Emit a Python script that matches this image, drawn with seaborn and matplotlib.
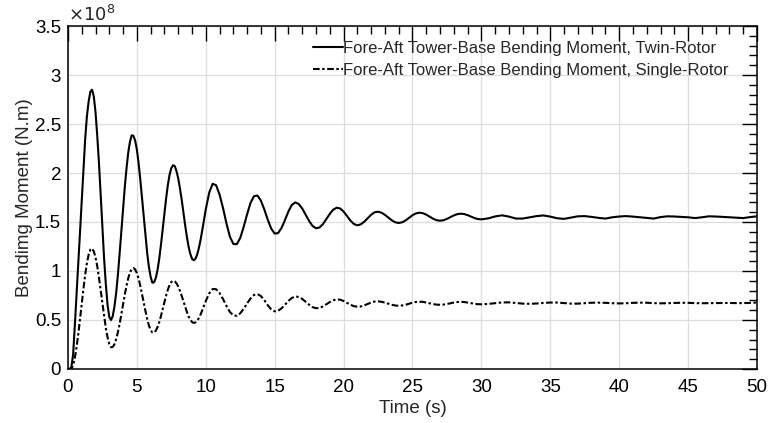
import matplotlib
matplotlib.use("Agg")
import matplotlib.pyplot as plt
import matplotlib.ticker as mticker
import numpy as np
import pandas as pd
import seaborn as sns

# time grid: 0.125 s up to 10 s, 0.25 s up to 30 s, then 0.5 s to 50 s
time_s = np.concatenate([np.arange(0, 10.001, 0.125),
                         np.arange(10.25, 30.001, 0.25),
                         np.arange(30.5, 50.001, 0.5)])

# values, in units of 1e8 N.m
twin_rotor = [
    # 0 .. 10 s
    0.00, 0.00, 0.02, 0.15, 0.45, 0.77, 1.10, 1.43,
    1.75, 2.06, 2.35, 2.58, 2.73, 2.83, 2.85, 2.78,
    2.62, 2.38, 2.10, 1.77, 1.44, 1.12, 0.86, 0.65,
    0.53, 0.50, 0.54, 0.64, 0.78, 0.965, 1.18, 1.41,
    1.64, 1.86, 2.05, 2.21, 2.32, 2.385, 2.38, 2.33,
    2.24, 2.10, 1.93, 1.74, 1.54, 1.35, 1.18, 1.04,
    0.94, 0.88, 0.885, 0.93, 1.01, 1.127, 1.27, 1.43,
    1.59, 1.744, 1.88, 1.984, 2.05, 2.08, 2.07, 2.02,
    1.945, 1.844, 1.73, 1.60, 1.47, 1.353, 1.25, 1.175,
    1.125, 1.11, 1.125, 1.168, 1.235, 1.32, 1.42, 1.528,
    1.63,
    # 10.25 .. 30 s
    1.80, 1.89, 1.875, 1.78, 1.643, 1.486, 1.35,
    1.276, 1.273, 1.337, 1.45, 1.58, 1.696, 1.764, 1.77,
    1.718, 1.627, 1.522, 1.432, 1.382, 1.387, 1.44, 1.521,
    1.609, 1.675, 1.70, 1.683, 1.637, 1.574, 1.51, 1.459,
    1.436, 1.444, 1.478, 1.53, 1.583, 1.626, 1.646, 1.638,
    1.607, 1.561, 1.514, 1.479, 1.466, 1.476, 1.503, 1.539,
    1.574, 1.599, 1.605, 1.595, 1.573, 1.545, 1.517, 1.497,
    1.49, 1.497, 1.516, 1.543, 1.569, 1.588, 1.595, 1.59,
    1.575, 1.554, 1.533, 1.518, 1.513, 1.518, 1.532, 1.55,
    1.567, 1.58, 1.585, 1.581, 1.57, 1.555, 1.54, 1.53,
    1.527,
    # 30.5 .. 50 s
    1.537, 1.557, 1.568, 1.555, 1.535, 1.535, 1.548, 1.56,
    1.567, 1.555, 1.538, 1.532, 1.545, 1.558, 1.56, 1.552,
    1.542, 1.535, 1.548, 1.556, 1.56, 1.555, 1.548, 1.54,
    1.535, 1.55, 1.558, 1.556, 1.552, 1.548, 1.54, 1.548,
    1.558, 1.556, 1.552, 1.548, 1.543, 1.54, 1.55, 1.558,
]

single_rotor = [
    # 0 .. 10 s
    0.00, 0.00, 0.002, 0.04, 0.115, 0.223, 0.357, 0.507,
    0.665, 0.82, 0.962, 1.08, 1.167, 1.218, 1.23, 1.20,
    1.14, 1.048, 0.932, 0.801, 0.664, 0.533, 0.415, 0.32,
    0.254, 0.222, 0.225, 0.253, 0.305, 0.376, 0.461, 0.56,
    0.662, 0.76, 0.85, 0.927, 0.985, 1.02, 1.03, 1.016,
    0.979, 0.921, 0.848, 0.764, 0.676, 0.589, 0.509, 0.443,
    0.398, 0.372, 0.372, 0.391, 0.428, 0.479, 0.542, 0.612,
    0.684, 0.752, 0.811, 0.858, 0.888, 0.90, 0.894, 0.874,
    0.842, 0.798, 0.747, 0.692, 0.636, 0.584, 0.536, 0.503,
    0.479, 0.47, 0.475, 0.492, 0.52, 0.557, 0.60, 0.647,
    0.693,
    # 10.25 .. 30 s
    0.772, 0.816, 0.814, 0.776, 0.714, 0.644, 0.582,
    0.546, 0.543, 0.568, 0.614, 0.67, 0.72, 0.756, 0.765,
    0.744, 0.702, 0.65, 0.608, 0.588, 0.594, 0.619, 0.656,
    0.695, 0.725, 0.74, 0.735, 0.715, 0.686, 0.656, 0.631,
    0.62, 0.623, 0.638, 0.66, 0.683, 0.701, 0.71, 0.707,
    0.694, 0.675, 0.655, 0.641, 0.635, 0.638, 0.649, 0.664,
    0.678, 0.688, 0.69, 0.686, 0.677, 0.666, 0.655, 0.648,
    0.645, 0.648, 0.655, 0.666, 0.677, 0.684, 0.687, 0.685,
    0.678, 0.67, 0.662, 0.657, 0.655, 0.657, 0.663, 0.671,
    0.678, 0.683, 0.685, 0.683, 0.678, 0.671, 0.665, 0.661,
    0.66,
    # 30.5 .. 50 s
    0.664, 0.672, 0.679, 0.68, 0.674, 0.667, 0.665, 0.668,
    0.674, 0.678, 0.678, 0.672, 0.667, 0.667, 0.672, 0.676,
    0.677, 0.675, 0.671, 0.669, 0.671, 0.675, 0.677, 0.676,
    0.672, 0.67, 0.671, 0.674, 0.676, 0.675, 0.672, 0.671,
    0.672, 0.674, 0.675, 0.674, 0.672, 0.672, 0.675, 0.678,
]

labels = ["Fore-Aft Tower-Base Bending Moment, Twin-Rotor",
          "Fore-Aft Tower-Base Bending Moment, Single-Rotor"]

sns.set_style("white")
plt.rcParams['font.family'] = ['Liberation Sans', 'DejaVu Sans']

df = pd.DataFrame({
    'time': np.concatenate([time_s, time_s]),
    'moment': np.concatenate([twin_rotor, single_rotor]) * 1e8,
    'case': [labels[0]] * len(time_s) + [labels[1]] * len(time_s),
})

fig = plt.figure(figsize=(7.68, 4.23), dpi=100)
ax = fig.add_axes([0.0885, 0.1277, 0.8972, 0.8108])

sns.lineplot(data=df, x='time', y='moment', hue='case', style='case',
             palette=['black', 'black'],
             dashes=[(None, None), (3.2, 1.2, 1.2, 1.2)],
             linewidth=1.5, ax=ax, estimator=None, sort=False)

ax.set_xlim(0, 50)
ax.set_ylim(0, 3.5e8)
ax.xaxis.set_major_locator(mticker.MultipleLocator(5))
ax.xaxis.set_minor_locator(mticker.MultipleLocator(1))
ax.yaxis.set_major_locator(mticker.MultipleLocator(0.5e8))
ax.yaxis.set_minor_locator(mticker.MultipleLocator(0.1e8))
ax.yaxis.set_major_formatter(mticker.FuncFormatter(lambda v, p: f"{v / 1e8:g}"))
ax.text(0.0, 1.003, r"$\times10^{8}$", transform=ax.transAxes,
        fontsize=13, ha='left', va='bottom')

ax.grid(True, which='major', color='#dddddd', linewidth=0.9)
ax.tick_params(which='both', direction='in', top=True, right=True,
               labelsize=13.5, colors='black')
ax.tick_params(axis='x', which='major', pad=7)
ax.tick_params(axis='y', which='major', pad=5)
ax.tick_params(which='major', length=10.5, width=1)
ax.tick_params(which='minor', length=5.5, width=1)
for s in ax.spines.values():
    s.set_color('black')
    s.set_linewidth(1.1)

ax.set_xlabel("Time (s)", fontsize=13.5, labelpad=3)
ax.set_ylabel("Bendimg Moment (N.m)", fontsize=13.5, labelpad=1)

leg = ax.legend(loc='upper right', frameon=False, fontsize=12.0,
                handlelength=1.8, handletextpad=0.0,
                bbox_to_anchor=(0.968, 0.975), borderaxespad=0.0,
                labelspacing=0.4)
for line in leg.get_lines():
    line.set_linewidth(1.5)

fig.savefig("out.png", dpi=100)
